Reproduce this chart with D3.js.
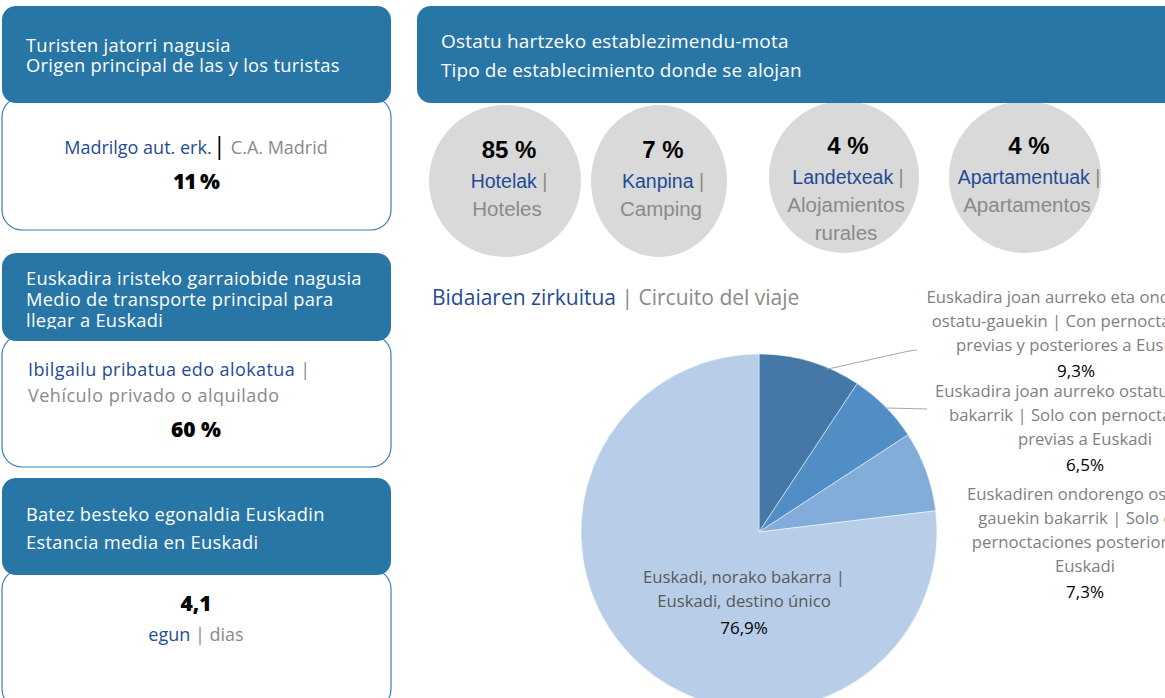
<!DOCTYPE html>
<html>
<head>
<meta charset="utf-8">
<script src="https://cdn.jsdelivr.net/npm/d3@7"></script>
<style>
  body { margin: 0; background: #fff; }
  svg { display: block; font-family: 'Open Sans', sans-serif; }
</style>
</head>
<body>
<script>
// ---- data ----
const originEu = 'Madrilgo aut. erk.'
const originEs = 'C.A. Madrid'
const originPct = 11

const transportEu = 'Ibilgailu pribatua edo alokatua'
const transportEs = 'Vehículo privado o alquilado'
const transportPct = 60

const stayDays = '4,1'

const lodgingEu = ['Hotelak', 'Kanpina', 'Landetxeak', 'Apartamentuak']
const lodgingEs = [['Hoteles'], ['Camping'], ['Alojamientos', 'rurales'], ['Apartamentos']]
const lodgingPct = [85, 7, 4, 4]

const circuitLabels = [
  ['Euskadira joan aurreko eta ondorengo', 'ostatu-gauekin | Con pernoctaciones', 'previas y posteriores a Euskadi'],
  ['Euskadira joan aurreko ostatu-gauekin', 'bakarrik | Solo con pernoctaciones', 'previas a Euskadi'],
  ['Euskadiren ondorengo ostatu-', 'gauekin bakarrik | Solo con', 'pernoctaciones posteriores a', 'Euskadi'],
  ['Euskadi, norako bakarra |', 'Euskadi, destino único']
]
const circuitValues = [9.3, 6.5, 7.3, 76.9]

// ---- layout ----
const W = 1165, H = 698
const headBlue = '#2776a5'
const darkBlue = '#1f4b96'
const grey = '#8a8a8a'
const fsHead = 18.3
const fsBody = 18

const svg = d3.select('body').append('svg')
  .attr('width', W).attr('height', H)

const defs = svg.append('defs')

// left-hand info cards
function card(y0, bodyH, headH, lines, clipAt) {
  svg.append('rect')
    .attr('x', 2).attr('y', y0 + headH - 6)
    .attr('width', 389).attr('height', bodyH)
    .attr('rx', 20)
    .attr('fill', '#fff').attr('stroke', '#3d7fb0').attr('stroke-width', 1.2)
  svg.append('rect')
    .attr('x', 2).attr('y', y0)
    .attr('width', 389).attr('height', headH)
    .attr('rx', 14)
    .attr('fill', headBlue)
  const id = 'clip' + y0
  defs.append('clipPath').attr('id', id)
    .append('rect').attr('x', 0).attr('y', y0).attr('width', 400).attr('height', clipAt)
  svg.append('g').attr('clip-path', `url(#${id})`)
    .selectAll('text').data(lines).enter().append('text')
    .attr('x', 26).attr('y', d => d[1])
    .attr('fill', '#fff').attr('font-size', fsHead).attr('letter-spacing', 0.3)
    .text(d => d[0])
}

card(6, 133, 97, [['Turisten jatorri nagusia', 52], ['Origen principal de las y los turistas', 72]], 97)
card(253, 132, 88, [['Euskadira iristeko garraiobide nagusia', 285], ['Medio de transporte principal para', 306], ['llegar a Euskadi', 327]], 76)
card(478, 140, 97, [['Batez besteko egonaldia Euskadin', 521], ['Estancia media en Euskadi', 549]], 97)

// card 1 body
const t1 = svg.append('text').attr('x', 196).attr('y', 154)
  .attr('text-anchor', 'middle').attr('font-size', fsBody)
t1.append('tspan').attr('fill', darkBlue).text(originEu)
t1.append('tspan').attr('fill', '#000').attr('font-size', 24).attr('dx', 1).text('|')
t1.append('tspan').attr('fill', grey).attr('dx', 5).text(originEs)
svg.append('text').attr('x', 196).attr('y', 189)
  .attr('text-anchor', 'middle').attr('font-size', 21).attr('font-weight', 800)
  .attr('letter-spacing', -1)
  .text(originPct + ' %')

// card 2 body
const t2 = svg.append('text').attr('x', 28).attr('y', 376).attr('font-size', fsBody)
  .attr('letter-spacing', 0.4)
t2.append('tspan').attr('fill', darkBlue).text(transportEu)
t2.append('tspan').attr('fill', grey).text(' |')
svg.append('text').attr('x', 28).attr('y', 402).attr('font-size', fsBody)
  .attr('letter-spacing', 0.5).attr('fill', grey).text(transportEs)
svg.append('text').attr('x', 196).attr('y', 437)
  .attr('text-anchor', 'middle').attr('font-size', 21).attr('font-weight', 800)
  .text(transportPct + ' %')

// card 3 body
svg.append('text').attr('x', 196).attr('y', 611)
  .attr('text-anchor', 'middle').attr('font-size', 21).attr('font-weight', 800)
  .text(stayDays)
const t3 = svg.append('text').attr('x', 196).attr('y', 641)
  .attr('text-anchor', 'middle').attr('font-size', fsBody)
t3.append('tspan').attr('fill', darkBlue).text('egun')
t3.append('tspan').attr('fill', grey).text(' | dias')

// lodging bubbles
const bubbleX = d3.scaleOrdinal().domain(lodgingEu).range([505, 659, 844, 1025])
const bubbleY = d3.scaleOrdinal().domain(lodgingEu).range([181, 181, 177, 177])
const bubbleRx = d3.scaleOrdinal().domain(lodgingEu).range([76, 68, 75, 76])
const bubbles = svg.append('g').selectAll('g').data(lodgingEu).enter().append('g')
bubbles.append('ellipse')
  .attr('cx', d => bubbleX(d)).attr('cy', d => bubbleY(d))
  .attr('rx', d => bubbleRx(d)).attr('ry', 76)
  .attr('fill', '#d9d9d9')

svg.append('rect')
  .attr('x', 417).attr('y', 6).attr('width', 770).attr('height', 97)
  .attr('rx', 14).attr('fill', headBlue)
svg.append('text').attr('x', 441).attr('y', 48).attr('fill', '#fff')
  .attr('font-size', 19).attr('letter-spacing', 0.2).text('Ostatu hartzeko establezimendu-mota')
svg.append('text').attr('x', 441).attr('y', 77).attr('fill', '#fff')
  .attr('font-size', 19).attr('letter-spacing', 0.1).text('Tipo de establecimiento donde se alojan')

const narrow = "'Liberation Sans Narrow', 'Arial Narrow', 'Liberation Sans', sans-serif"
bubbles.each(function(d, i) {
  const g = d3.select(this)
  const cx = bubbleX(d)
  const top = bubbleY(d) - 23
  g.append('text').attr('x', cx + 4).attr('y', top)
    .attr('text-anchor', 'middle').attr('font-family', narrow)
    .attr('font-size', 24).attr('font-weight', 700)
    .text(lodgingPct[i] + ' %')
  const nm = g.append('text').attr('x', cx + 4).attr('y', top + 30)
    .attr('text-anchor', 'middle').attr('font-family', narrow).attr('font-size', 19.5)
  nm.append('tspan').attr('fill', darkBlue).text(d)
  nm.append('tspan').attr('fill', grey).text(' |')
  g.selectAll('text.es').data(lodgingEs[i]).enter().append('text')
    .attr('class', 'es')
    .attr('x', cx + 2).attr('y', (e, j) => top + 58 + j * 28)
    .attr('text-anchor', 'middle').attr('font-family', narrow).attr('font-size', 20.5)
    .attr('fill', grey).text(e => e)
})

// circuit pie
const title = svg.append('text').attr('x', 432).attr('y', 305).attr('font-size', 21)
title.append('tspan').attr('fill', darkBlue).text('Bidaiaren zirkuitua')
title.append('tspan').attr('fill', grey).text(' | Circuito del viaje')

const cx = 759, cy = 532, r = 178
const pie = d3.pie().sort(null).value(d => d)
const arcs = pie(circuitValues)
const arc = d3.arc().innerRadius(0).outerRadius(r)
const pieColor = d3.scaleOrdinal().domain(d3.range(4)).range(['#4577a7', '#518ec6', '#82acda', '#b8cde8'])

const pg = svg.append('g').attr('transform', `translate(${cx},${cy})`)
pg.selectAll('path').data(arcs).enter().append('path')
  .attr('d', arc)
  .attr('fill', (d, i) => pieColor(i))
  .attr('stroke', '#fff').attr('stroke-width', 0.5)

// leader lines for the two thin slices
const leadEnds = [[[150, -181], [158, -182]], [[168, -123], [168, -123]]]
leadEnds.forEach((ends, i) => {
  const a = arcs[i]
  const mid = (a.startAngle + a.endAngle) / 2 + (i === 0 ? 0.1 : 0)
  const p = [Math.sin(mid) * (r - 2), -Math.cos(mid) * (r - 2)]
  pg.append('path')
    .attr('d', d3.line()([p].concat(ends)))
    .attr('fill', 'none').attr('stroke', '#a6a6a6').attr('stroke-width', 1)
})

// outside labels
const labelPos = [[1076, 303], [1085, 397], [1085, 500]]
labelPos.forEach((pos, i) => {
  const lines = circuitLabels[i]
  svg.selectAll(null).data(lines).enter().append('text')
    .attr('x', pos[0]).attr('y', (d, j) => pos[1] + j * 24)
    .attr('text-anchor', 'middle').attr('font-size', 16.7).attr('fill', '#7f7f7f')
    .text(d => d)
  svg.append('text').attr('x', pos[0]).attr('y', pos[1] + lines.length * 24 + 2)
    .attr('text-anchor', 'middle').attr('font-size', 17).attr('fill', '#000')
    .text(String(circuitValues[i]).replace('.', ',') + '%')
})

// inside label for main slice
const inner = circuitLabels[3]
svg.selectAll(null).data(inner).enter().append('text')
  .attr('x', 744).attr('y', (d, j) => 583 + j * 24)
  .attr('text-anchor', 'middle').attr('font-size', 16.7).attr('fill', '#595959')
  .text(d => d)
svg.append('text').attr('x', 744).attr('y', 634)
  .attr('text-anchor', 'middle').attr('font-size', 17).attr('fill', '#000')
  .text(String(circuitValues[3]).replace('.', ',') + '%')
</script>
</body>
</html>
